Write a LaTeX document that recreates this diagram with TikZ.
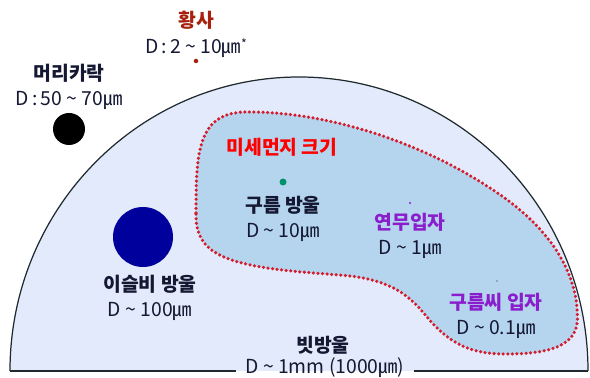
\documentclass[tikz,border=0pt]{standalone}
\usepackage{fontspec}
\setmainfont{Noto Sans CJK KR}
\usepackage{tikz}
\usetikzlibrary{positioning,calc}
\definecolor{rimgray}{HTML}{1E2A2E}
\definecolor{rainfill}{HTML}{E3EAFB}
\definecolor{dustfill}{HTML}{B5D5EF}
\definecolor{dustred}{HTML}{D41C2C}
\definecolor{sandred}{HTML}{A8200E}
\definecolor{navy}{HTML}{00009C}
\definecolor{cloudgreen}{HTML}{00936A}
\definecolor{hazepurple}{HTML}{8A1ECC}
\definecolor{inkblue}{HTML}{141832}
\newcommand{\um}{\char"339B}

\begin{document}
\begin{tikzpicture}[
  every node/.style={font=\fontsize{11}{13}\selectfont,text=inkblue,inner sep=1pt},
  title/.style={font=\fontsize{11}{13}\selectfont\bfseries},
  dust/.style={draw=dustred,fill=dustfill,line width=2pt,
    dash pattern=on 0pt off 2.6pt,line cap=round},
  rim/.style={draw=rimgray,line width=0.7pt}
]
\useasboundingbox (0,0) rectangle (11.8,7.56);

% 빗방울 단면
\fill[rainfill] (0.2,0.14) arc[start angle=180,end angle=0,x radius=5.78,y radius=5.88] -- cycle;
\draw[rim] (0.2,0.14) arc[start angle=180,end angle=0,x radius=5.78,y radius=5.88];
\coordinate (baseL) at (0.2,0.14);
\coordinate (baseR) at (11.76,0.14);

% 미세먼지 영역
\path[dust]
  (3.92,3.3)
  .. controls (3.92,4.5) and (3.95,5.3) .. (4.9,5.32)
  .. controls (6.3,5.34) and (8.2,4.85) .. (9.8,3.8)
  .. controls (10.9,3.1) and (11.55,2.2) .. (11.55,1.2)
  .. controls (11.55,0.6) and (10.9,0.48) .. (10.1,0.48)
  .. controls (9.4,0.48) and (9.0,0.7) .. (8.6,1.15)
  .. controls (8.3,1.5) and (8.0,1.95) .. (6.9,2.05)
  .. controls (5.7,2.15) and (4.4,2.2) .. (4.05,2.75)
  .. controls (3.93,2.95) and (3.92,3.1) .. cycle;
\node[title,text=red] (pmtitle) at (5.64,4.62) {미세먼지 크기};

% 황사
\node[title,text=sandred] (sand) at (3.92,7.16) {황사};
\node[below=3pt of sand] (sandD) {D\,:\,2 \textasciitilde{} 10\um\raisebox{0.5ex}{\scriptsize*}};
\fill[sandred] (3.92,6.34) circle (0.045);

% 머리카락
\node[title] (hair) at (1.38,6.1) {머리카락};
\node[below=3pt of hair] (hairD) {D\,:\,50 \textasciitilde{} 70\um};
\fill[black] (1.38,4.98) circle (0.32);

% 이슬비 방울
\fill[navy] (2.86,2.82) circle (0.6);
\node[title] (drizzle) at (3.0,1.88) {이슬비 방울};
\node[below=3pt of drizzle] (drizzleD) {D \textasciitilde{} 100\um};

% 구름 방울
\fill[cloudgreen] (5.66,3.92) circle (0.07);
\node[title] (cloud) at (5.66,3.46) {구름 방울};
\node[below=3pt of cloud] (cloudD) {D \textasciitilde{} 10\um};

% 연무입자
\fill[hazepurple] (8.2,3.5) circle (0.022);
\node[title,text=hazepurple] (haze) at (8.2,3.12) {연무입자};
\node[below=3pt of haze] (hazeD) {D \textasciitilde{} 1\um};

% 구름씨 입자
\fill[inkblue] (9.94,1.94) circle (0.013);
\node[title,text=hazepurple] (seed) at (9.92,1.52) {구름씨 입자};
\node[below=3pt of seed] (seedD) {D \textasciitilde{} 0.1\um};

% 빗방울
\node[title] (rain) at (6.46,0.66) {빗방울};
\node[inner xsep=5pt] (rainD) at (6.5,0.2) {D \textasciitilde{} 1mm (1000\um)};
\draw[rim] (baseL) -- (baseL -| rainD.west);
\draw[rim] (baseR -| rainD.east) -- (baseR);
\end{tikzpicture}
\end{document}
